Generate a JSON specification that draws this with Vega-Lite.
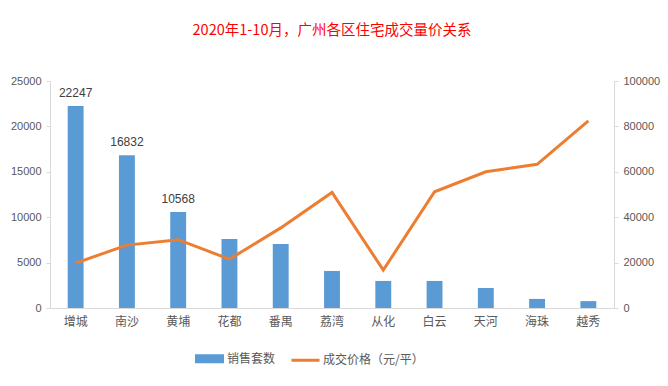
{
  "$schema": "https://vega.github.io/schema/vega-lite/v6.json",
  "width": 564,
  "height": 227,
  "autosize": "none",
  "padding": {"left": 50, "top": 81, "right": 54, "bottom": 78},
  "title": {
    "text": "2020年1-10月，广州各区住宅成交量价关系",
    "color": "#ff0000",
    "fontSize": 14.5,
    "fontWeight": "normal",
    "font": "Noto Sans CJK SC",
    "anchor": "middle",
    "offset": 37
  },
  "data": {
    "values": [
      {"区域": "增城", "销售套数": 22247, "成交价格": 19800},
      {"区域": "南沙", "销售套数": 16832, "成交价格": 27700},
      {"区域": "黄埔", "销售套数": 10568, "成交价格": 30100},
      {"区域": "花都", "销售套数": 7600, "成交价格": 21500},
      {"区域": "番禺", "销售套数": 7050, "成交价格": 35300},
      {"区域": "荔湾", "销售套数": 4080, "成交价格": 50900},
      {"区域": "从化", "销售套数": 2980, "成交价格": 16700},
      {"区域": "白云", "销售套数": 2980, "成交价格": 51200},
      {"区域": "天河", "销售套数": 2200, "成交价格": 60000},
      {"区域": "海珠", "销售套数": 1000, "成交价格": 63300},
      {"区域": "越秀", "销售套数": 760, "成交价格": 82400}
    ]
  },
  "encoding": {
    "x": {
      "field": "区域",
      "type": "nominal",
      "sort": null,
      "scale": {"paddingInner": 0.69, "paddingOuter": 0.345},
      "axis": {
        "title": null,
        "labelAngle": 0,
        "ticks": false,
        "domainColor": "#d9d9d9",
        "labelColor": "#595959",
        "labelFontSize": 12,
        "labelFont": "Noto Sans CJK SC",
        "labelPadding": 8
      }
    }
  },
  "layer": [
    {
      "mark": {"type": "bar", "color": "#5b9bd5"},
      "encoding": {
        "y": {
          "field": "销售套数",
          "type": "quantitative",
          "scale": {"domain": [0, 25000]},
          "axis": {
            "title": null,
            "values": [0, 5000, 10000, 15000, 20000, 25000],
            "grid": false,
            "domainColor": "#d9d9d9",
            "tickColor": "#d9d9d9",
            "tickSize": 4,
            "labelColor": "#595959",
            "labelFontSize": 11,
            "labelFont": "Liberation Sans",
            "labelPadding": 5,
            "format": "d"
          }
        },
        "color": {
          "datum": "销售套数",
          "type": "nominal",
          "scale": {"domain": ["销售套数", "成交价格（元/平）"], "range": ["#5b9bd5", "#ed7d31"]},
          "legend": {
            "title": null,
            "orient": "none",
            "legendX": 145,
            "legendY": 263,
            "direction": "horizontal",
            "symbolSize": 676,
            "labelColor": "#595959",
            "labelFontSize": 12,
            "labelFont": "Noto Sans CJK SC",
            "labelOffset": 3,
            "columnPadding": 9,
            "encode": {
              "symbols": {
                "update": {
                  "shape": {"signal": "datum.value === '销售套数' ? 'M-1,-0.23H1V0.23H-1Z' : 'M-1.08,0H1.08'"},
                  "fill": {"signal": "datum.value === '销售套数' ? '#5b9bd5' : 'transparent'"},
                  "stroke": {"signal": "datum.value === '销售套数' ? 'transparent' : '#ed7d31'"},
                  "strokeWidth": {"value": 3},
                  "opacity": {"value": 1}
                }
              }
            }
          }
        }
      }
    },
    {
      "transform": [{"filter": "datum['销售套数'] > 10000"}],
      "mark": {"type": "text", "baseline": "bottom", "dy": -6, "fontSize": 12, "font": "Liberation Sans", "color": "#404040"},
      "encoding": {
        "y": {"field": "销售套数", "type": "quantitative", "scale": {"domain": [0, 25000]}, "axis": null},
        "text": {"field": "销售套数", "type": "quantitative", "format": "d"}
      }
    },
    {
      "mark": {"type": "line", "strokeWidth": 3, "color": "#ed7d31"},
      "encoding": {
        "y": {
          "field": "成交价格",
          "type": "quantitative",
          "scale": {"domain": [0, 100000]},
          "axis": {
            "title": null,
            "orient": "right",
            "values": [0, 20000, 40000, 60000, 80000, 100000],
            "grid": false,
            "domainColor": "#d9d9d9",
            "tickColor": "#d9d9d9",
            "tickSize": 4,
            "labelColor": "#595959",
            "labelFontSize": 11,
            "labelFont": "Liberation Sans",
            "labelPadding": 5,
            "format": "d"
          }
        },
        "color": {"datum": "成交价格（元/平）", "type": "nominal"}
      }
    }
  ],
  "resolve": {"scale": {"y": "independent"}},
  "config": {"view": {"stroke": null}}
}
